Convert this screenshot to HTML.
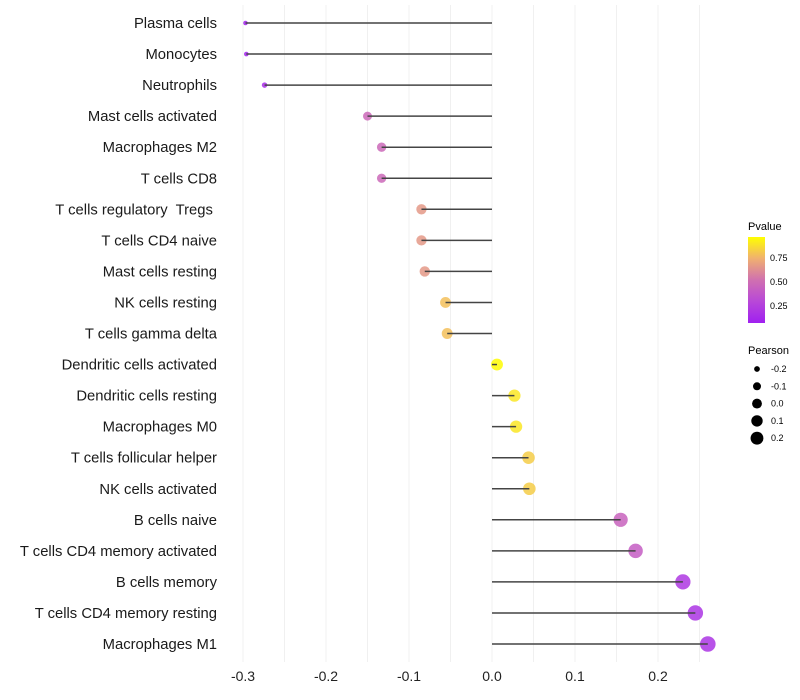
<!DOCTYPE html>
<html><head><meta charset="utf-8"><style>
body{margin:0;background:#fff;font-family:"Liberation Sans",sans-serif}
svg{display:block}
text{white-space:pre}
</style></head><body>
<svg id="chart" width="800" height="700">
<defs><linearGradient id="pg" x1="0" y1="1" x2="0" y2="0">
<stop offset="0" stop-color="#a020f0"/><stop offset="0.25" stop-color="#b848d8"/><stop offset="0.5" stop-color="#d070b0"/><stop offset="0.75" stop-color="#f0b070"/><stop offset="1" stop-color="#ffff00"/></linearGradient></defs>
<g id="grid"></g><g id="marks"></g><g id="labels"></g>
<g>
<text x="748" y="230" font-size="11" fill="#000">Pvalue</text>
<rect x="748" y="237" width="17" height="86" fill="url(#pg)"/>
<text x="770" y="261" font-size="9">0.75</text>
<text x="770" y="285" font-size="9">0.50</text>
<text x="770" y="309" font-size="9">0.25</text>
</g>
<g id="sleg">
<text x="748" y="354" font-size="11">Pearson</text>
</g>
</svg>
<script>
const categories=["Plasma cells","Monocytes","Neutrophils","Mast cells activated","Macrophages M2","T cells CD8","T cells regulatory  Tregs ","T cells CD4 naive","Mast cells resting","NK cells resting","T cells gamma delta","Dendritic cells activated","Dendritic cells resting","Macrophages M0","T cells follicular helper","NK cells activated","B cells naive","T cells CD4 memory activated","B cells memory","T cells CD4 memory resting","Macrophages M1"];
const pearson=[-0.297,-0.296,-0.274,-0.150,-0.133,-0.133,-0.085,-0.085,-0.081,-0.056,-0.054,0.006,0.027,0.029,0.044,0.045,0.155,0.173,0.230,0.245,0.260];
const pvalue=[0.03,0.03,0.08,0.45,0.45,0.45,0.66,0.66,0.66,0.8,0.8,0.99,0.92,0.92,0.84,0.84,0.42,0.38,0.15,0.13,0.13];
const xTicks=[-0.3,-0.2,-0.1,0.0,0.1,0.2];
const xTickLabels=["-0.3","-0.2","-0.1","0.0","0.1","0.2"];
const sizeBreaks=[-0.2,-0.1,0.0,0.1,0.2];
const ns="http://www.w3.org/2000/svg";
const X=v=>492+v*830;
const Y=i=>23+i*31.05;
const R=v=>Math.sqrt(5+100*Math.max(0,v+0.3));
const stops=[[0,[160,32,240]],[0.25,[184,72,216]],[0.5,[208,112,176]],[0.75,[240,176,112]],[1,[255,255,0]]];
function col(p){for(let i=1;i<stops.length;i++){if(p<=stops[i][0]){const a=stops[i-1],b=stops[i],t=(p-a[0])/(b[0]-a[0]);return "rgb("+a[1].map((c,k)=>Math.round(c+(b[1][k]-c)*t)).join(",")+")";}}return "rgb(255,255,0)";}
function mk(t,at,parent){const e=document.createElementNS(ns,t);for(const k in at)e.setAttribute(k,at[k]);parent.appendChild(e);return e;}
const grid=document.getElementById('grid'),marks=document.getElementById('marks'),labels=document.getElementById('labels');
for(let k=0;k<=11;k++){const v=-0.3+k*0.05;const l=mk('line',{x1:X(v),x2:X(v),y1:5,y2:662,stroke:'#f0f0f0','stroke-width':1},grid);

}
xTicks.forEach((t,i)=>{const e=mk('text',{x:X(t),y:681,'font-size':14,'text-anchor':'middle',fill:'#222'},labels);e.textContent=xTickLabels[i];

});
categories.forEach((c,i)=>{const y=Y(i);
const t=mk('text',{x:217,y:y+5,'font-size':14.8,'text-anchor':'end',fill:'#1a1a1a'},labels);t.textContent=c;


const p=mk('circle',{cx:X(pearson[i]),cy:y,r:R(pearson[i]),fill:col(pvalue[i]),'fill-opacity':0.85},marks);


const l=mk('line',{x1:X(0),x2:X(pearson[i]),y1:y,y2:y,stroke:'#444','stroke-width':1.5},marks);

});
const sl=document.getElementById('sleg');
sizeBreaks.forEach((b,i)=>{const y=369+i*17.3;
const c=mk('circle',{cx:757,cy:y,r:R(b)-1,fill:'#000'},sl);


const t=mk('text',{x:771,y:y+3,'font-size':9},sl);t.textContent=b.toFixed(1);

});
</script>
</body></html>
